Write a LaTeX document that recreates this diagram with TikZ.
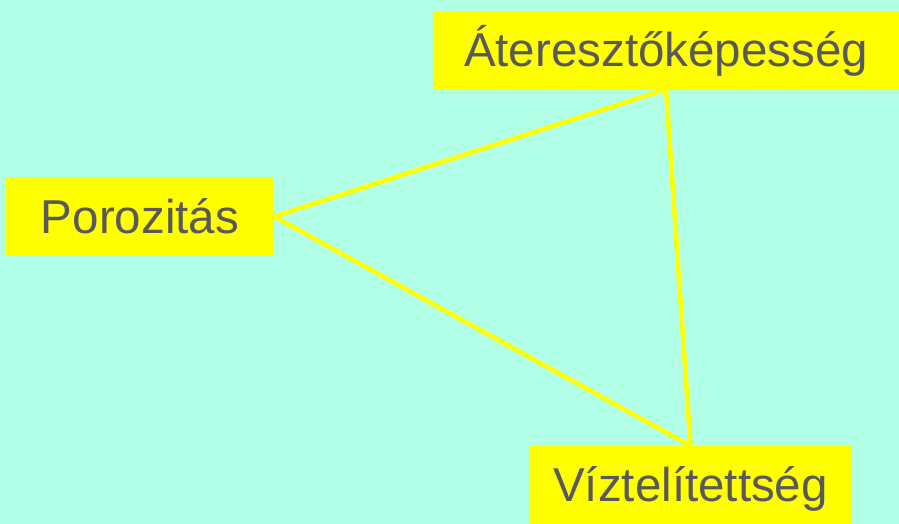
\documentclass[tikz,border=0pt]{standalone}
\usepackage{fontspec}
\setmainfont{Liberation Sans}
\definecolor{bgmint}{HTML}{B2FFE8}
\definecolor{boxyellow}{HTML}{FFFF00}
\definecolor{txtgray}{HTML}{595959}
\tikzset{
  termbox/.style={rectangle, fill=boxyellow, inner sep=0pt, text=txtgray,
    font=\fontsize{47.5}{50}\selectfont, text height=34pt, text depth=0pt, align=center},
  link/.style={draw=boxyellow, line width=4.5pt}
}
\begin{document}
\begin{tikzpicture}[x=1pt,y=1pt]
\useasboundingbox (0,0) rectangle (899,524);
\fill[bgmint] (0,0) rectangle (899,524);
\node[termbox, minimum width=268pt, minimum height=79pt] (por) at (140,307.5) {Porozitás};
\node[termbox, minimum width=466pt, minimum height=78pt] (ate) at (666,474) {Áteresztőképesség};
\node[termbox, minimum width=323pt, minimum height=78pt] (viz) at (690.5,39) {Víztelítettség};
\draw[link] (por.east) -- (ate.south);
\draw[link] (por.east) -- (viz.north);
\draw[link] (ate.south) -- (viz.north);
\end{tikzpicture}
\end{document}
